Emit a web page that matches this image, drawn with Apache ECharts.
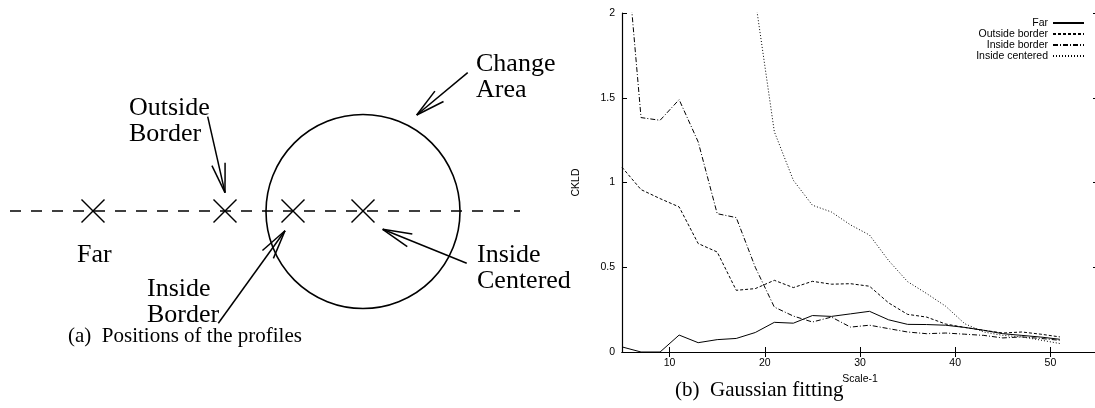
<!DOCTYPE html>
<html><head><meta charset="utf-8">
<script src="https://cdn.jsdelivr.net/npm/echarts@6/dist/echarts.min.js"></script>
<style>html,body{margin:0;padding:0;background:#fff}#c{width:1095px;height:408px}</style>
</head><body><div id="c"></div>
<script>
// ---------- (b) Gaussian fitting : data ----------
const scales = [5,7,9,11,13,15,17,19,21,23,25,27,29,31,33,35,37,39,41,43,45,47,49,51];
const farValues = [0.03,0.0,0.0,0.10,0.055,0.073,0.08,0.115,0.175,0.17,0.215,0.21,0.225,0.24,0.19,0.163,0.162,0.158,0.145,0.128,0.108,0.098,0.088,0.075];
const outsideBorderValues = [1.09,0.958,0.905,0.856,0.64,0.59,0.364,0.374,0.423,0.38,0.417,0.40,0.403,0.388,0.29,0.222,0.206,0.165,0.145,0.128,0.112,0.118,0.105,0.089];
const insideBorderValues = [2.68,1.383,1.367,1.489,1.24,0.816,0.793,0.50,0.265,0.212,0.177,0.206,0.147,0.158,0.138,0.118,0.108,0.112,0.105,0.098,0.083,0.089,0.08,0.069];
const insideCenteredValues = [null,null,null,null,null,null,null,2.08,1.30,1.013,0.866,0.826,0.75,0.69,0.54,0.415,0.345,0.27,0.167,0.118,0.098,0.089,0.07,0.05];
const seriesNames = ['Far','Outside border','Inside border','Inside centered'];
const xTickValues = [10,20,30,40,50];
const xAxisName = 'Scale-1';
const yAxisName = 'CKLD';
const captionA = '(a)  Positions of the profiles';
const captionB = '(b)  Gaussian fitting';

// ---------- (a) Positions of the profiles : diagram data ----------
const profileLabels = ['Far','Outside\nBorder','Inside\nBorder','Inside\nCentered'];
const profilePositions = [93,225,293,363];
const areaLabel = 'Change\nArea';

// ---------- layout / styles ----------
const diagramLineY = 211;
const diagramLineSpan = [10,520];
const areaCircle = [363,211.5,97];
const labelAnchors = [[77,242],[129,95],[147,276],[477,242],[476,51]];
const arrowFrom = [[207.7,116.7],[467.7,72.7],[218.3,323.3],[466.7,263.3]];
const arrowTo = [[225,192.7],[416.7,115],[285,230.7],[382.7,229.3]];
const dashTypes = ['solid',[3,2],[5,2,1,2],[1,2]];
const valueLists = [farValues,outsideBorderValues,insideBorderValues,insideCenteredValues];
const black = '#000';
const sans = 'Liberation Sans';
const serif = 'Liberation Serif';

const chartSeries = seriesNames.map((name,i)=>({
  name, type:'line', xAxisIndex:0, yAxisIndex:0,
  data: scales.map((x,j)=>[x, valueLists[i][j]]),
  symbol:'none', showSymbol:false, clip:true, connectNulls:false,
  lineStyle:{color:black,width:1,type:dashTypes[i]},
  itemStyle:{color:black}
}));

const stroke = {stroke:black, lineWidth:1.5, fill:null};

const diagramSeries = [
  {name:'_line', type:'line', xAxisIndex:2, yAxisIndex:2, symbol:'none', silent:true,
   data: diagramLineSpan.map(x=>[x, diagramLineY]),
   lineStyle:{color:black,width:1.3,type:[11,10]}},
  {name:'_crosses', type:'custom', xAxisIndex:2, yAxisIndex:2, silent:true,
   data: profilePositions.map(p=>[p, diagramLineY]),
   renderItem(params, api){
     const c = api.coord([api.value(0), api.value(1)]);
     const s = api.size([11.5,11.5]);
     return {type:'group', children:[
       {type:'line', shape:{x1:c[0]-s[0],y1:c[1]-s[1],x2:c[0]+s[0],y2:c[1]+s[1]}, style:stroke},
       {type:'line', shape:{x1:c[0]-s[0],y1:c[1]+s[1],x2:c[0]+s[0],y2:c[1]-s[1]}, style:stroke}
     ]};
   }},
  {name:'_area', type:'custom', xAxisIndex:2, yAxisIndex:2, silent:true,
   data:[areaCircle],
   renderItem(params, api){
     const c = api.coord([api.value(0), api.value(1)]);
     const r = api.size([api.value(2),0])[0];
     return {type:'circle', shape:{cx:c[0],cy:c[1],r}, style:{stroke:black,lineWidth:1.6,fill:null}};
   }},
  {name:'_arrows', type:'custom', xAxisIndex:2, yAxisIndex:2, silent:true,
   data: arrowFrom.map((f,i)=>[f[0],f[1],arrowTo[i][0],arrowTo[i][1]]),
   renderItem(params, api){
     const a = api.coord([api.value(0), api.value(1)]);
     const b = api.coord([api.value(2), api.value(3)]);
     const dx=b[0]-a[0], dy=b[1]-a[1], L=Math.hypot(dx,dy);
     const bx=-dx/L, by=-dy/L, hl=30, ang=13*Math.PI/180;
     const h = (t)=>[b[0]+hl*(bx*Math.cos(t)-by*Math.sin(t)), b[1]+hl*(bx*Math.sin(t)+by*Math.cos(t))];
     const h1=h(ang), h2=h(-ang);
     return {type:'group', children:[
       {type:'line', shape:{x1:a[0],y1:a[1],x2:b[0],y2:b[1]}, style:stroke},
       {type:'line', shape:{x1:b[0],y1:b[1],x2:h1[0],y2:h1[1]}, style:stroke},
       {type:'line', shape:{x1:b[0],y1:b[1],x2:h2[0],y2:h2[1]}, style:stroke}
     ]};
   }},
  {name:'_labels', type:'custom', xAxisIndex:2, yAxisIndex:2, silent:true,
   data: labelAnchors,
   renderItem(params, api){
     const c = api.coord([api.value(0), api.value(1)]);
     const texts = profileLabels.concat([areaLabel]);
     return {type:'text', style:{text:texts[params.dataIndex], x:c[0], y:c[1],
       fill:black, font:'26px "'+serif+'"', lineHeight:26, align:'left', verticalAlign:'top'}};
   }}
];

const tickCommon = {inside:true,length:5,lineStyle:{color:black,width:1}};
const option = {
  animation:false,
  backgroundColor:'#fff',
  textStyle:{fontFamily:sans},
  title:[
    {text:captionA,left:68,top:326,padding:0,textStyle:{fontFamily:serif,fontSize:21,fontWeight:'normal',color:black,lineHeight:21}},
    {text:captionB,left:675,top:380,padding:0,textStyle:{fontFamily:serif,fontSize:21,fontWeight:'normal',color:black,lineHeight:21}}
  ],
  legend:{data:seriesNames,orient:'vertical',right:10,top:17.5,align:'right',itemWidth:31,itemHeight:8,itemGap:0,padding:0,
    selectedMode:false,itemStyle:{opacity:0,borderWidth:0},
    textStyle:{fontFamily:sans,fontSize:10.5,color:black}},
  grid:[
    {left:622,top:13,width:476,height:339,containLabel:false,outerBoundsMode:'none'},
    {left:0,top:0,width:580,height:408,containLabel:false,outerBoundsMode:'none'}
  ],
  xAxis:[
    {type:'value',gridIndex:0,position:'bottom',min:5,max:55,
     axisLine:{show:true,lineStyle:{color:black,width:1.2}},
     axisTick:Object.assign({customValues:xTickValues},tickCommon),
     axisLabel:{customValues:xTickValues,margin:6,color:black,fontSize:10.5,fontFamily:sans},
     splitLine:{show:false},
     name:xAxisName,nameLocation:'middle',nameGap:21,nameTextStyle:{color:black,fontSize:10.5,fontFamily:sans}},
    {type:'value',gridIndex:0,position:'top',min:5,max:55,
     axisLine:{show:true,lineStyle:{color:black,width:1.2}},
     axisTick:Object.assign({customValues:xTickValues},tickCommon),
     axisLabel:{show:false},splitLine:{show:false}},
    {type:'value',gridIndex:1,min:0,max:580,show:false}
  ],
  yAxis:[
    {type:'value',gridIndex:0,position:'left',min:0,max:2,interval:0.5,
     axisLine:{show:true,lineStyle:{color:black,width:1.2}},
     axisTick:tickCommon,
     axisLabel:{margin:7,color:black,fontSize:10.5,fontFamily:sans},
     splitLine:{show:false},
     name:yAxisName,nameLocation:'middle',nameGap:40,nameRotate:90,nameTextStyle:{color:black,fontSize:10.5,fontFamily:sans}},
    {type:'value',gridIndex:0,position:'right',min:0,max:2,interval:0.5,
     axisLine:{show:true,lineStyle:{color:black,width:1.2}},
     axisTick:tickCommon,axisLabel:{show:false},splitLine:{show:false}},
    {type:'value',gridIndex:1,min:0,max:408,inverse:true,show:false}
  ],
  series: chartSeries.concat(diagramSeries)
};
const chart = echarts.init(document.getElementById('c'),null,{renderer:'canvas'});
chart.setOption(option);
</script>
</body></html>
